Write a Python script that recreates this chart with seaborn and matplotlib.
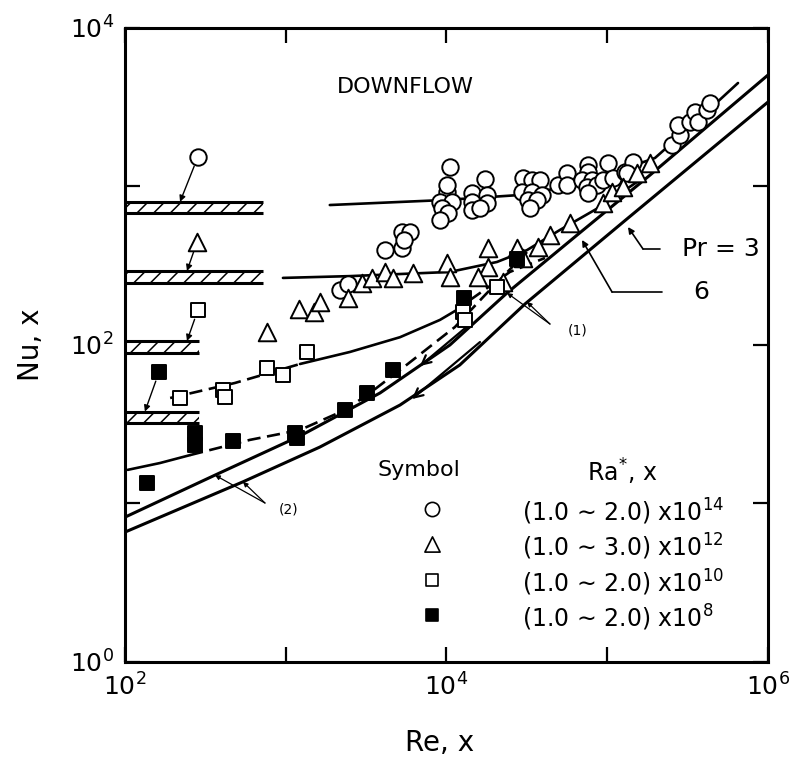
import matplotlib
matplotlib.use("Agg")
import matplotlib.pyplot as plt
import seaborn as sns

# ---------------- data ----------------
# Ra* ~ 1e14 (open circles)
circ_re = [2180, 2440, 4140, 5290, 5290, 5930, 5440,
           10500, 10100, 9110, 10800, 9380, 10200, 9110, 10100,
           14400, 17400, 17900, 14400, 17900, 14400, 16200,
           29900, 34000, 38200, 29500, 34000, 39300, 32100, 36600, 33100,
           49400, 56200, 56200,
           75900, 75900, 101000, 69700, 80400, 74800, 86300, 75900, 94100,
           109000, 129000, 145000, 133000,
           253000, 284000, 275000, 327000, 352000, 367000, 417000, 436000]
circ_nu = [222, 243, 397, 409, 516, 516, 460,
           1328, 923, 798, 798, 731, 681, 615, 1022,
           910, 1115, 884, 798, 787, 711, 731,
           1131, 1099, 1099, 923, 923, 884, 822, 822, 731,
           1022, 1217, 1022,
           1367, 1234, 1407, 1099, 1099, 993, 1022, 910, 1099,
           1131, 1234, 1427, 1217,
           1828, 2113, 2443, 2553, 2951, 2553, 3039, 3364]

# Ra* ~ 1e12 (open triangles)
tri_re = [764, 1210, 1500, 1630, 2440, 2980, 3440, 4140, 4650, 6190,
          10100, 10500, 18100, 18100, 15700, 22500, 27500, 29900, 37100,
          44000, 58600, 94100, 107000, 125000, 153000, 185000]
tri_nu = [121, 169, 162, 187, 198, 246, 265, 289, 265, 285,
          329, 268, 409, 310, 268, 250, 409, 354, 415,
          494, 589, 787, 923, 993, 1217, 1407]

# Ra* ~ 1e10 (open squares)
sq_re = [220, 407, 419, 764, 961, 1360, 12700, 13000, 20600]
sq_nu = [46.3, 52.0, 46.9, 71.6, 64.7, 90.4, 162, 144, 232]

# Ra* ~ 1e8 (filled squares)
fsq_re = [137, 273, 273, 470, 1140, 1180, 2340, 3200, 4650, 12900, 27500]
fsq_nu = [13.5, 27.9, 23.4, 24.8, 27.9, 25.9, 38.9, 49.8, 69.5, 198, 349]

# natural-convection limits (hatched bands) and their key symbols
band_lo = [680, 245, 89, 32]
band_hi = [800, 293, 106, 38]
band_re_end = [720, 720, 290, 290]
key_re = [284, 281, 284, 163]
key_nu = [1535, 447, 166, 67.6]
tip_re = [220, 243, 243, 133]
tip_nu = [800, 293, 106, 38]

# forced-convection predictions
pr6_re = [100, 363, 1230, 3860, 10500, 23800, 69700, 184500, 1e6]
pr6_nu = [8.2, 15.1, 26.7, 49.8, 100, 213, 524, 1180, 5050]
pr3_re = [100, 542, 1630, 5140, 12100, 30800, 134600, 1e6]
pr3_nu = [6.6, 13.7, 22.7, 41.8, 74.8, 181.5, 632, 3412]

# correlation curves through each data group
circ_fit_re = [1880, 9790, 28660, 58630, 111700, 198200, 377500, 650900]
circ_fit_nu = [764, 822, 884, 1007, 1234, 1513, 2705, 4498]
tri_fit_re = [961, 2510, 10500, 20600, 31700, 50800, 90100, 159800]
tri_fit_nu = [265, 272, 289, 334, 397, 532, 743, 1099]
sq_dash_re = [191, 483, 1227]
sq_dash_nu = [46.3, 57.6, 75.9]
sq_solid_re = [1227, 2510, 5140, 9110, 12130]
sq_solid_nu = [75.9, 90.4, 112, 144, 171]
sq_tail_re = [14000, 24800, 41000]
sq_tail_nu = [192, 289, 354]
fsq_solid_re = [104, 165, 254]
fsq_solid_nu = [16.3, 18.0, 20.2]
fsq_dash_re = [254, 599, 1227, 2340, 3340, 5140, 11300, 17400, 27500, 31700]
fsq_dash_nu = [20.2, 25.2, 29.1, 38.9, 49.8, 69.5, 130, 207, 334, 386]

legend_labels = ["(1.0 \u223c 2.0) x10$^{14}$",
                 "(1.0 \u223c 3.0) x10$^{12}$",
                 "(1.0 \u223c 2.0) x10$^{10}$",
                 "(1.0 \u223c 2.0) x10$^{8}$"]

# ---------------- style ----------------
sns.set_style("ticks")
INK = 'black'
plt.rcParams['font.family'] = ['DejaVu Sans']
plt.rcParams['mathtext.default'] = 'regular'
plt.rcParams['hatch.linewidth'] = 1.1
plt.rcParams['hatch.color'] = INK
plt.rcParams['text.color'] = INK
plt.rcParams['axes.labelcolor'] = INK

fig = plt.figure(figsize=(7.97, 7.67), dpi=100)
ax = fig.add_axes([0.1568, 0.1369, 0.8068, 0.8266])
ax.set_xscale('log')
ax.set_yscale('log')
ax.set_xlim(1e2, 1e6)
ax.set_ylim(1, 1e4)


def curve(re, nu, ls='-', lw=1.9, z=2):
    sns.lineplot(x=re, y=nu, sort=False, estimator=None, color=INK,
                 lw=lw, linestyle=ls, ax=ax, zorder=z)


dash = (0, (5, 2.5))
curve(pr6_re, pr6_nu, lw=2.2)
curve(pr3_re, pr3_nu, lw=2.2)
curve(circ_fit_re, circ_fit_nu)
curve(tri_fit_re, tri_fit_nu)
curve(sq_dash_re, sq_dash_nu, ls=dash)
curve(sq_solid_re, sq_solid_nu)
curve(sq_tail_re, sq_tail_nu, ls=dash)
curve(fsq_solid_re, fsq_solid_nu)
curve(fsq_dash_re, fsq_dash_nu, ls=dash)

# turbulent branches extended into the transition region
for (x0, y0), (x1, y1) in [((14000, 135.6), (6840, 73.7)),
                           ((16160, 104.4), (6100, 45.6))]:
    ax.annotate('', xy=(x1, y1), xytext=(x0, y0),
                arrowprops=dict(arrowstyle='->', color=INK, lw=1.6,
                                shrinkA=0, shrinkB=0, mutation_scale=16))

# hatched natural-convection bands
for lo, hi, xe in zip(band_lo, band_hi, band_re_end):
    ax.fill_between([100, xe], lo, hi, facecolor='white', edgecolor=INK,
                    hatch='//', linewidth=0, zorder=1)
    ax.hlines([lo, hi], 100, xe, color=INK, lw=2.2, zorder=2)

for kr, kn, tr, tn in zip(key_re, key_nu, tip_re, tip_nu):
    ax.annotate('', xy=(tr, tn), xytext=(kr, kn),
                arrowprops=dict(arrowstyle='-|>', color=INK, lw=1.0,
                                shrinkA=7, shrinkB=0, mutation_scale=9))

# data symbols
mk = dict(ax=ax, zorder=4, linewidth=1.4, edgecolor=INK, legend=False)
sns.scatterplot(x=circ_re, y=circ_nu, marker='o', s=140, color='white', **mk)
sns.scatterplot(x=tri_re, y=tri_nu, marker='^', s=160, color='white', **mk)
sns.scatterplot(x=sq_re, y=sq_nu, marker='s', s=115, color='white', **mk)
sns.scatterplot(x=fsq_re, y=fsq_nu, marker='s', s=115, color=INK, **mk)
key_style = [('o', 'white', 140), ('^', 'white', 160), ('s', 'white', 115), ('s', INK, 115)]
for (m, fc, s), kr, kn in zip(key_style, key_re, key_nu):
    sns.scatterplot(x=[kr], y=[kn], marker=m, s=s, color=fc, **mk)

# ---------------- annotations ----------------
ax.text(5520, 4244, "DOWNFLOW", fontsize=16, ha='center', va='center')

ax.text(291700, 403.6, "Pr = 3", fontsize=18, ha='left', va='center')
ax.text(341500, 216, "6", fontsize=18, ha='left', va='center')
ax.plot([212900, 166900], [403.6, 403.6], color=INK, lw=1.2)
ax.annotate('', xy=(134600, 555), xytext=(166900, 403.6),
            arrowprops=dict(arrowstyle='-|>', color=INK, lw=1.2,
                            shrinkA=0, shrinkB=0, mutation_scale=9))
ax.plot([219100, 107100], [216, 216], color=INK, lw=1.2)
ax.annotate('', xy=(69680, 460), xytext=(107100, 216),
            arrowprops=dict(arrowstyle='-|>', color=INK, lw=1.2,
                            shrinkA=0, shrinkB=0, mutation_scale=9))

ax.text(57000, 124, "(1)", fontsize=10, ha='left', va='center')
for tx, ty in [(31680, 187), (23790, 213)]:
    ax.annotate('', xy=(tx, ty), xytext=(44040, 135.6),
                arrowprops=dict(arrowstyle='-|>', color=INK, lw=0.9,
                                shrinkA=0, shrinkB=0, mutation_scale=7))
ax.text(900, 9.1, "(2)", fontsize=10, ha='left', va='center')
for tx, ty in [(363, 15.1), (542, 13.7)]:
    ax.annotate('', xy=(tx, ty), xytext=(743, 10.07),
                arrowprops=dict(arrowstyle='-|>', color=INK, lw=0.9,
                                shrinkA=0, shrinkB=0, mutation_scale=7))

# symbol table
tr = ax.transAxes
ax.text(0.392, 0.303, "Symbol", fontsize=16, ha='left', va='center', transform=tr)
ax.text(0.7185, 0.300, "Ra$^{*}$, x", fontsize=17, ha='left', va='center', transform=tr)
row_y = [0.2366, 0.1814, 0.1246, 0.0694]
for (m, fc, s), yy, lab in zip(key_style, row_y, legend_labels):
    ax.scatter([0.4774], [yy + 0.004], marker=m, s=s * 0.75, facecolor=fc,
               edgecolor=INK, linewidth=1.2, transform=tr, zorder=5)
    ax.text(0.6174, yy, lab, fontsize=17, ha='left', va='center', transform=tr)

# ---------------- axes ----------------
ax.set_xticks([1e2, 1e3, 1e4, 1e5, 1e6])
ax.set_xticklabels(['$10^{2}$', '', '$10^{4}$', '', '$10^{6}$'])
ax.set_yticks([1, 10, 100, 1e3, 1e4])
ax.set_yticklabels(['$10^{0}$', '', '$10^{2}$', '', '$10^{4}$'])
ax.minorticks_off()
ax.tick_params(which='major', direction='in', length=11, width=1.6,
               top=True, right=True, labelsize=18, pad=8, colors=INK)
for sp in ax.spines.values():
    sp.set_linewidth(2.2)
    sp.set_color(INK)

ax.set_xlabel("Re, x", fontsize=20)
ax.set_ylabel("Nu, x", fontsize=20)
ax.xaxis.set_label_coords(0.49, -0.105)
ax.yaxis.set_label_coords(-0.125, 0.5)

fig.savefig("out.png", dpi=100, facecolor='white')
